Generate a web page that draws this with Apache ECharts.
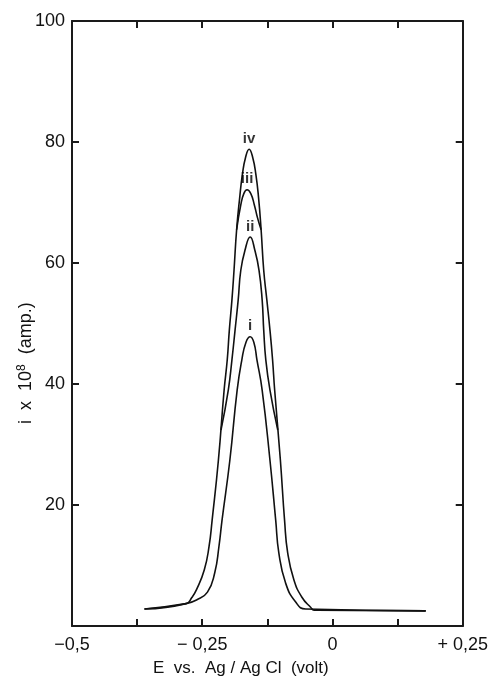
<!DOCTYPE html>
<html>
<head>
<meta charset="utf-8">
<script src="https://cdn.jsdelivr.net/npm/echarts@6/dist/echarts.min.js"></script>
<style>
html,body{margin:0;padding:0;background:#fff;}
#chart{width:491px;height:682px;}
</style>
</head>
<body>
<div id="chart"></div>
<script>
// Data (E in volt, i in 1e-8 A)
const curveIV = [[-0.361,2.8],[-0.281,3.7],[-0.270,4.7],[-0.261,6.0],[-0.246,9.3],[-0.237,13.1],[-0.231,17.5],[-0.219,27.4],[-0.208,39.0],[-0.202,44.0],[-0.198,48.9],[-0.193,53.9],[-0.189,58.8],[-0.184,65.5],[-0.178,70.9],[-0.173,74.6],[-0.167,77.4],[-0.160,78.8],[-0.153,77.4],[-0.147,74.6],[-0.142,70.9],[-0.137,65.5],[-0.132,58.8],[-0.126,53.9],[-0.120,48.9],[-0.115,44.0],[-0.111,39.0],[-0.100,27.4],[-0.092,17.5],[-0.086,12.1],[-0.074,7.6],[-0.059,4.8],[-0.042,3.1],[-0.034,2.6],[0.179,2.5]];
const curveIII = [[-0.184,65.5],[-0.176,69.6],[-0.170,71.5],[-0.164,72.1],[-0.157,71.5],[-0.150,69.6],[-0.144,67.5],[-0.137,65.5]];
const curveII = [[-0.214,32.4],[-0.200,39.0],[-0.193,44.0],[-0.187,48.9],[-0.181,53.9],[-0.176,58.8],[-0.168,62.1],[-0.158,64.3],[-0.149,62.1],[-0.141,58.8],[-0.135,53.9],[-0.132,48.9],[-0.128,44.0],[-0.120,39.0],[-0.105,32.4]];
const curveI = [[-0.361,2.8],[-0.281,3.7],[-0.261,4.3],[-0.240,5.6],[-0.226,8.8],[-0.218,13.1],[-0.212,17.5],[-0.197,27.4],[-0.183,39.0],[-0.174,44.0],[-0.166,46.9],[-0.158,47.8],[-0.151,46.9],[-0.145,44.0],[-0.135,39.0],[-0.120,27.4],[-0.109,17.5],[-0.103,12.1],[-0.090,7.1],[-0.071,4.0],[-0.0515,2.8],[0.179,2.5]];
const curveNames = ['i','ii','iii','iv'];
const xTickLabels = {'-0.5':'−0,5','-0.25':'− 0,25','0':'0','0.25':'+ 0,25'};
const yTickLabels = ['20','40','60','80','100'];

const chart = echarts.init(document.getElementById('chart'));
const axisCol = '#1a1a1a';
const font = 'Liberation Sans, Arial, sans-serif';

function peakOf(data){
  let pk = 0;
  data.forEach((d,i)=>{ if(d[1] > data[pk][1]) pk = i; });
  return data[pk];
}
function lineSeries(data, name){
  return {type:'line', name:name, data:data, showSymbol:false, symbol:'none',
    smooth:0.5, lineStyle:{color:'#111', width:1.6}, z:3,
    emphasis:{disabled:true}};
}
function labelSeries(){
  const curves = [curveI, curveII, curveIII, curveIV];
  return {type:'scatter', symbol:'circle', symbolSize:2, silent:true, z:4,
    itemStyle:{color:'rgba(0,0,0,0)'},
    data: curves.map((c,i)=>({value:peakOf(c), name:curveNames[i]})),
    label:{show:true, position:'top', distance:2, formatter:p=>p.name, fontSize:15, fontWeight:'bold', color:'#000', fontFamily:font}};
}
const commonX = {type:'value', min:-0.5, max:0.25, interval:0.125,
  axisLine:{show:true, onZero:false, lineStyle:{color:axisCol, width:2}},
  axisTick:{show:true, inside:true, length:7, lineStyle:{color:axisCol, width:2}},
  splitLine:{show:false}};
const commonY = {type:'value', min:0, max:100, interval:20,
  axisLine:{show:true, onZero:false, lineStyle:{color:axisCol, width:2}},
  axisTick:{show:true, inside:true, length:7, lineStyle:{color:axisCol, width:2}},
  splitLine:{show:false}};

chart.setOption({
  animation:false,
  backgroundColor:'#fff',
  grid:{left:72, right:26, top:21, bottom:56},
  xAxis:[
    Object.assign({}, commonX, {position:'bottom',
      axisLabel:{show:true, color:'#111', fontSize:18, fontFamily:font, margin:10,
        formatter:v=>{ const k = String(Math.round(v*1000)/1000); return xTickLabels[k] !== undefined ? xTickLabels[k] : ''; }}}),
    Object.assign({}, commonX, {position:'top', axisLabel:{show:false}})
  ],
  yAxis:[
    Object.assign({}, commonY, {position:'left',
      axisLabel:{show:true, color:'#111', fontSize:18, fontFamily:font, margin:7,
        formatter:v=> yTickLabels.includes(String(v)) ? String(v) : ''}}),
    Object.assign({}, commonY, {position:'right', axisLabel:{show:false}})
  ],
  graphic:[
    {type:'text', left:153, top:660, style:{text:'E  vs.  Ag / Ag Cl  (volt)', font:'17px '+font, fill:'#111'}},
    {type:'text', x:16, y:424, rotation:Math.PI/2,
      style:{text:'i  x  10{s|8}  (amp.)', font:'18px '+font, fill:'#111',
        rich:{s:{fontSize:12, verticalAlign:'top', padding:[0,0,8,0], fontFamily:font, fill:'#111'}}}}
  ],
  series:[
    lineSeries(curveI, curveNames[0]),
    lineSeries(curveII, curveNames[1]),
    lineSeries(curveIII, curveNames[2]),
    lineSeries(curveIV, curveNames[3]),
    labelSeries()
  ]
});
</script>
</body>
</html>
